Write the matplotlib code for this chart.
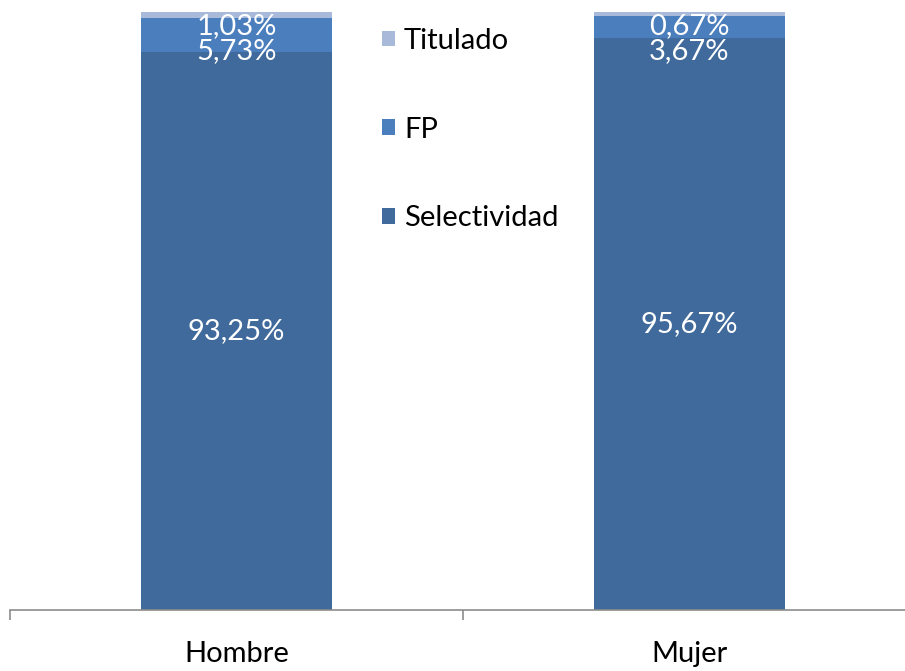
import matplotlib
matplotlib.use("Agg")
import matplotlib.pyplot as plt
import numpy as np

categories = ["Hombre", "Mujer"]
selectividad = [93.25, 95.67]
fp = [5.73, 3.67]
titulado = [1.03, 0.67]
sel_labels = ["93,25%", "95,67%"]
fp_labels = ["5,73%", "3,67%"]
tit_labels = ["1,03%", "0,67%"]

c_sel = "#3F6A9B"
c_fp = "#4B7EBC"
c_tit = "#A8B9D9"

plt.rcParams['font.family'] = ['Lato', 'DejaVu Sans']
W, H = 905, 671
fig = plt.figure(figsize=(W / 100, H / 100), dpi=100)
ax = fig.add_axes([10 / W, 1 - 610 / H, 906 / W, (610 - 12) / H])

x = np.arange(len(categories))
bw = 0.42
sel = np.array(selectividad)
f = np.array(fp)
t = np.array(titulado)
b1 = ax.bar(x, sel, bw, color=c_sel, label="Selectividad", zorder=2)
b2 = ax.bar(x, f, bw, bottom=sel, color=c_fp, label="FP", zorder=2)
b3 = ax.bar(x, t, bw, bottom=sel + f, color=c_tit, label="Titulado", zorder=2)

ax.set_xlim(-0.5, 1.5)
ax.set_ylim(0, 100.01)

fs = 21
for i in range(len(categories)):
    ax.text(x[i], sel[i] / 2, sel_labels[i], ha="center", va="center",
            color="white", fontsize=fs)
    top = sel[i] + f[i] + t[i]
    ax.annotate(tit_labels[i], (x[i], top), xytext=(0, -10), textcoords="offset points",
                ha="center", va="center", color="white", fontsize=fs)
    ax.annotate(fp_labels[i], (x[i], top), xytext=(0, -28), textcoords="offset points",
                ha="center", va="center", color="white", fontsize=fs)

for s in ["top", "right", "left"]:
    ax.spines[s].set_visible(False)
ax.spines["bottom"].set_color("#8C8C8C")
ax.spines["bottom"].set_linewidth(1.2)
ax.set_yticks([])
ax.set_xticks(x)
ax.set_xticklabels(categories, fontsize=fs)
ax.tick_params(axis="x", which="major", length=0, pad=22)
ax.set_xticks([-0.5, 0.5, 1.5], minor=True)
ax.tick_params(axis="x", which="minor", length=7, width=1.2, color="#8C8C8C")

handles = [b3, b2, b1]
leg = fig.legend(handles, ["Titulado", "FP", "Selectividad"], loc="upper left",
                 bbox_to_anchor=(382 / W, 1 - 28 / H), frameon=False, fontsize=fs,
                 handlelength=0.45, handleheight=0.45, handletextpad=0.3,
                 labelspacing=2.15, borderpad=0, borderaxespad=0)

fig.savefig("out.png", dpi=100)
